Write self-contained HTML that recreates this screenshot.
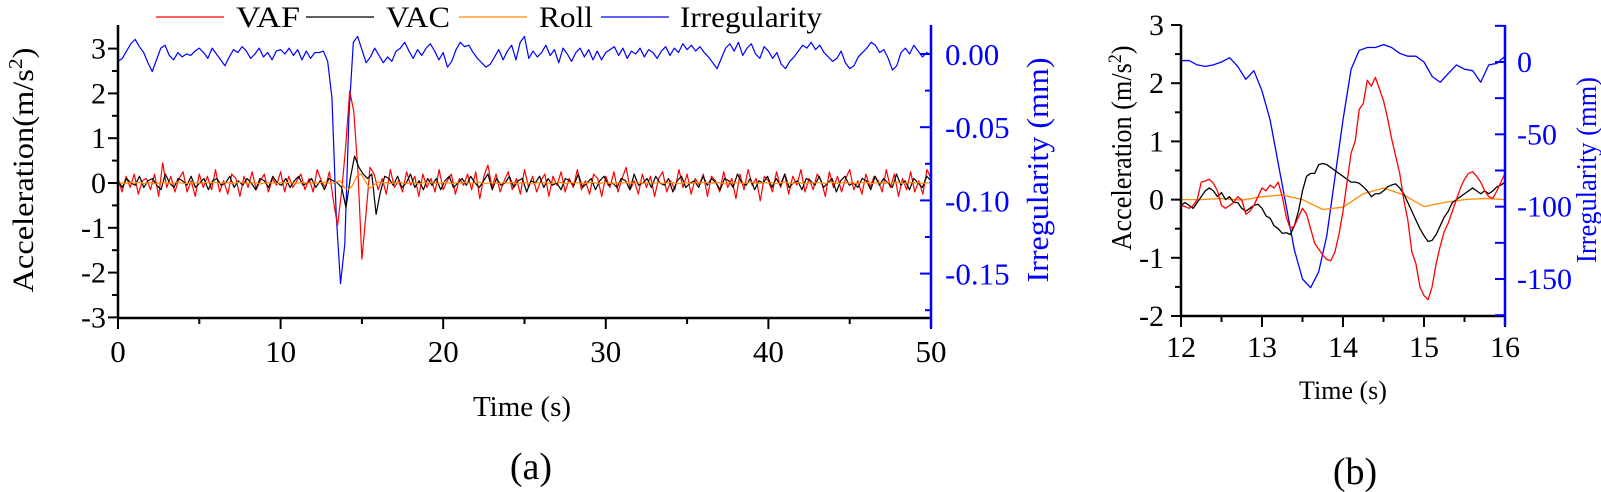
<!DOCTYPE html>
<html><head><meta charset="utf-8">
<style>
html,body{margin:0;padding:0;background:#fff;}
svg{display:block;font-family:"Liberation Serif","Times New Roman",serif;}
</style></head>
<body>
<svg id="fig" width="1601" height="492" viewBox="0 0 1601 492" xmlns="http://www.w3.org/2000/svg">
<g id="chartA"></g>
<g id="chartB"></g>
</svg>
<script>
// ---------- Chart (a) data ----------
const aTimeRange = [0, 50];
const aXTicks = [0, 10, 20, 30, 40, 50];
const aYTicks = [-3, -2, -1, 0, 1, 2, 3];
const aIrrTicks = [0.00, -0.05, -0.10, -0.15];
const aIrrTickLabels = ["0.00", "-0.05", "-0.10", "-0.15"];
const aVAF = [0.1,-0.2,0.15,-0.1,0.2,-0.25,0.05,0.1,-0.15,0.2,-0.3,0.45,-0.1,0.15,-0.2,0.1,0.25,-0.2,0.05,-0.3,0.2,-0.1,0.15,-0.15,0.3,-0.2,0.05,-0.25,0.2,0.1,-0.3,0.15,-0.1,0.25,-0.15,0.05,0.2,-0.2,0.1,-0.05,0.25,-0.2,0.15,-0.1,0.05,0.2,-0.15,0.1,-0.2,0.3,0.05,-0.1,
0.25,-0.4,-0.95,-0.2,0.8,2.05,1.6,0.3,-1.7,-0.7,0.35,
0.2,-0.15,0.1,-0.25,0.3,-0.1,0.05,-0.2,0.25,-0.05,0.15,-0.3,0.2,-0.1,0.1,-0.2,0.3,-0.15,0.05,0.2,-0.25,0.1,-0.05,0.2,-0.15,0.25,-0.35,0.15,0.4,-0.1,0.2,-0.2,0.05,0.25,-0.15,0.1,-0.25,0.3,-0.1,0.15,-0.2,0.05,0.2,-0.3,0.15,-0.05,0.25,-0.2,0.1,-0.1,0.3,-0.15,0.05,-0.25,0.2,0.1,-0.3,0.15,-0.1,0.25,-0.2,0.1,0.35,-0.15,0.05,-0.25,0.2,-0.1,0.15,-0.3,0.1,0.25,-0.2,0.05,-0.15,0.3,-0.1,0.2,-0.25,0.1,-0.05,0.2,-0.3,0.15,0.05,-0.2,0.25,-0.1,0.1,-0.35,0.2,-0.15,0.3,-0.05,0.1,-0.4,0.15,0.05,-0.2,0.25,-0.1,0.2,-0.25,0.15,-0.05,0.3,-0.2,0.1,-0.15,0.2,0.05,-0.3,0.25,-0.1,0.15,-0.2,0.1,0.3,-0.15,0.05,-0.25,0.2,-0.1,0.15,0.05,-0.2,0.3,-0.1,0.2,-0.3,0.1,-0.15,0.25,-0.2,0.05,-0.25,0.3,0.1];
const aVAC = [0.05,-0.1,0.1,0.0,-0.05,0.15,-0.1,0.05,0.1,-0.05,-0.15,0.2,0.0,-0.1,0.1,0.05,-0.05,0.15,-0.1,0.0,0.1,-0.15,0.05,0.1,-0.05,0.0,0.15,-0.1,0.05,-0.05,0.1,0.0,-0.15,0.1,0.05,-0.1,0.15,0.0,-0.05,0.1,-0.1,0.05,0.15,-0.05,0.0,0.1,-0.1,0.05,-0.15,0.1,0.05,0.0,
-0.1,-0.55,0.1,0.6,0.35,0.2,0.1,0.2,-0.7,-0.2,0.15,
0.1,-0.05,0.15,-0.1,0.0,0.2,-0.1,0.05,-0.15,0.1,-0.05,0.1,-0.15,0.05,0.15,-0.1,0.0,0.1,-0.05,0.15,0.0,-0.1,0.05,0.2,-0.15,0.1,-0.05,0.0,0.15,-0.1,0.05,0.1,-0.2,0.05,0.0,0.15,-0.1,0.1,-0.05,0.0,-0.15,0.1,0.05,-0.05,0.2,-0.1,0.0,0.1,-0.15,0.05,0.15,-0.05,0.0,-0.1,0.1,0.05,-0.15,0.2,-0.05,0.0,0.1,-0.1,0.15,0.0,-0.05,0.1,-0.2,0.05,0.15,-0.1,0.0,0.05,-0.1,0.15,-0.05,0.1,0.0,-0.15,0.1,0.05,-0.1,0.2,0.0,-0.05,0.1,-0.15,0.05,0.0,0.15,-0.1,0.1,-0.05,0.2,-0.1,0.0,0.05,-0.15,0.1,0.05,-0.05,0.15,-0.1,0.0,0.1,-0.2,0.05,0.15,-0.05,0.0,-0.1,0.1,0.05,-0.15,0.15,-0.05,0.1,0.0,-0.1,0.2,-0.05,0.05,-0.15,0.1,0.0,-0.1,0.15,0.05];
const aRoll = [0.01,0,-0.01,0.01,0,0.02,-0.01,0,0.01,-0.02,0,0.01,0,-0.01,0.02,0,-0.01,0,0.01,0,-0.01,0.01,0,0.02,-0.01,0,0.01,-0.01,0,0.02,0,-0.01,0.01,0,-0.02,0,0.01,0,-0.01,0.01,0,0.02,-0.01,0,0.01,0,-0.01,0.01,0,0.02,0,-0.01,
0.02,0.05,-0.1,-0.15,-0.05,0.15,0.2,0.05,-0.12,-0.05,0.02,
0,0.01,-0.01,0,0.02,0,-0.01,0.01,0,-0.02,0.01,0,0.01,-0.01,0,0.02,0,-0.01,0.01,0,0.01,-0.01,0,0.02,0,-0.01,0.01,0,-0.01,0.01,0,0.02,-0.01,0,0.01,0,-0.02,0.01,0,0.01,-0.01,0,0.02,0,-0.01,0.01,0,0.01,-0.01,0,0.02,0,-0.01,0.01,0,-0.02,0.01,0,0.01,0,-0.01,0.02,0,-0.01,0.01,0,0.01,-0.01,0,0.02,0,-0.01,0.01,0,-0.01,0.01,0,0.02,-0.01,0,0.01,0,-0.02,0.01,0,0.01,-0.01,0,0.02,0,-0.01,0.01,0,0.01,-0.01,0,0.02,0,-0.01,0.01,0,-0.02,0.01,0,0.01,0,-0.01,0.02,0,-0.01,0.01,0,0.01,-0.01,0,0.02,0,-0.01,0.01,0,-0.01,0.01,0,0.02,-0.01,0,0.01,0,0.01,-0.01,0,0.01];
const aIrr = [-0.005,-0.003,0.002,0.007,0.010,0.005,0.001,-0.006,-0.012,-0.004,0.004,0.006,-0.001,-0.004,0.001,-0.002,0.000,-0.001,0.002,0.004,
0.001,-0.003,0.004,0.000,-0.004,-0.008,-0.002,0.003,0.001,0.005,0.002,-0.003,0.000,0.004,-0.002,0.001,-0.004,0.002,0.003,
0.000,0.004,-0.001,0.003,-0.004,0.002,-0.003,0.001,0.001,0.002,-0.005,-0.030,-0.110,-0.157,-0.130,-0.040,0.008,0.012,0.003,
-0.006,-0.002,0.004,-0.001,-0.006,-0.002,-0.005,0.002,0.004,0.008,0.002,-0.003,0.003,-0.001,0.004,0.007,0.002,-0.004,0.001,
-0.009,-0.005,0.003,0.008,0.005,0.006,0.001,-0.003,-0.006,-0.009,-0.007,-0.002,0.003,-0.004,0.002,0.006,-0.004,0.008,0.012,
-0.003,0.002,-0.002,0.001,0.006,-0.001,0.003,-0.006,0.004,0.000,-0.005,0.001,0.004,-0.002,0.003,-0.004,0.002,-0.004,0.001,
0.003,0.005,-0.001,0.004,-0.003,0.002,0.000,0.004,-0.002,0.003,0.001,-0.003,0.002,0.005,-0.001,0.004,0.001,0.007,0.003,
0.006,0.002,0.005,0.001,-0.002,-0.006,-0.010,-0.003,0.004,0.007,0.002,0.008,-0.001,0.004,0.007,0.000,-0.003,0.005,0.002,
-0.003,0.001,-0.007,-0.010,-0.005,-0.002,0.002,0.006,0.004,0.008,0.003,0.006,0.001,-0.002,-0.005,-0.003,0.002,-0.006,-0.010,
-0.008,-0.002,0.001,0.004,0.008,0.006,0.001,0.003,-0.003,-0.011,-0.008,0.001,0.004,0.000,0.006,0.002,-0.002,0.001,-0.001];
const legendLabels = ["VAF", "VAC", "Roll", "Irregularity"];

// ---------- Chart (b) data ----------
const bTimeRange = [12, 16];
const bXTicks = [12, 13, 14, 15, 16];
const bYTicks = [-2, -1, 0, 1, 2, 3];
const bIrrTicks = [0, -50, -100, -150];
const bVAF = [-0.1,-0.12,-0.15,-0.1,0.0,0.3,0.32,0.35,0.28,0.15,-0.1,-0.15,-0.1,-0.05,0.05,0.0,-0.25,-0.2,-0.1,0.05,0.2,0.15,0.25,0.2,0.3,0.05,-0.3,-0.5,-0.45,-0.3,-0.15,-0.25,-0.5,-0.75,-0.85,-0.95,-1.03,-1.05,-0.9,-0.6,-0.2,0.3,0.8,1.0,1.55,1.65,2.05,1.95,2.1,1.9,1.7,1.4,1.05,0.75,0.45,0.0,-0.35,-0.9,-1.1,-1.5,-1.65,-1.72,-1.5,-1.1,-0.8,-0.55,-0.4,-0.2,0.0,0.2,0.35,0.45,0.48,0.4,0.3,0.15,0.05,0.02,0.15,0.3,0.45];
const bVAC = [-0.1,-0.05,-0.1,-0.15,-0.05,0.05,0.15,0.2,0.15,0.05,0.12,0.0,0.05,-0.05,-0.05,-0.15,-0.2,-0.15,-0.1,-0.08,-0.15,-0.28,-0.32,-0.45,-0.5,-0.58,-0.57,-0.6,-0.45,-0.2,0.15,0.4,0.45,0.45,0.6,0.62,0.6,0.55,0.5,0.45,0.4,0.35,0.3,0.3,0.28,0.22,0.15,0.05,0.1,0.1,0.15,0.22,0.25,0.27,0.2,0.1,-0.05,-0.2,-0.35,-0.5,-0.62,-0.72,-0.7,-0.6,-0.45,-0.3,-0.2,-0.05,0.0,0.05,0.1,0.15,0.2,0.15,0.1,0.15,0.1,0.15,0.22,0.25,0.3];
const bRoll = [0.0,0.0,0.02,-0.01,0.05,0.08,0.0,-0.17,-0.13,0.1,0.2,0.08,-0.12,-0.05,0.0,0.02,0.0];
const bIrr = [1,1,-2,-3,-2,0,3,-3,-12,-6,-20,-40,-70,-100,-130,-150,-156,-145,-120,-80,-40,-5,8,10,10,12,10,6,4,4,0,-10,-14,-8,-2,-5,-6,-14,-2,-1,4];

// ---------- helpers ----------
const NS = "http://www.w3.org/2000/svg";
function mk(parent, tag, attrs, text) {
  const e = document.createElementNS(NS, tag);
  for (const k in attrs) e.setAttribute(k, attrs[k]);
  if (text !== undefined) e.textContent = text;
  parent.appendChild(e);
  return e;
}
function lineScale(d0, d1, r0, r1) { return v => r0 + (v - d0) / (d1 - d0) * (r1 - r0); }
function seriesPath(parent, vals, t0, t1, xs, ys, color, width, name) {
  const n = vals.length;
  const d = vals.map((v, i) => (i ? "L" : "M") + xs(t0 + i * (t1 - t0) / (n - 1)).toFixed(2) + "," + ys(v).toFixed(2)).join("");
  const p = mk(parent, "path", {d: d, fill: "none", stroke: color, "stroke-width": width, "stroke-linejoin": "round"});
  
  
  return p;
}

// ---------- chart (a) ----------
(function(){
  const g = document.getElementById("chartA");
  const L = 118, R = 931, T = 25, B = 318;
  const xs = lineScale(aTimeRange[0], aTimeRange[1], L, R);
  const ys = lineScale(-3, 3, 317.4, 48.6);
  const yi = lineScale(0, -0.18, 54, 317.5);

  seriesPath(g, aIrr, 0, 50, xs, yi, "#0000ff", 1.2, "irregularity-line-a");
  seriesPath(g, aVAF, 0, 50, xs, ys, "#ff0000", 1.2, "vaf-line-a");
  seriesPath(g, aVAC, 0, 50, xs, ys, "#000000", 1.2, "vac-line-a");
  seriesPath(g, aRoll, 0, 50, xs, ys, "#ff8c00", 1.2, "roll-line-a");

  const la = mk(g, "line", {x1: L, y1: T, x2: L, y2: B, stroke: "#000", "stroke-width": 2.5});
  
  
  aYTicks.forEach(v => {
    mk(g, "line", {x1: L - 10, y1: ys(v), x2: L, y2: ys(v), stroke: "#000", "stroke-width": 2});
    const t = mk(g, "text", {x: 106, y: ys(v) + 10, "text-anchor": "end", "font-size": 30}, String(v));
    
    
    if (v < 3) mk(g, "line", {x1: L - 6, y1: ys(v + 0.5), x2: L, y2: ys(v + 0.5), stroke: "#000", "stroke-width": 2});
  });
  const ba = mk(g, "line", {x1: L - 1, y1: B, x2: R, y2: B, stroke: "#000", "stroke-width": 2.5});
  
  
  aXTicks.forEach(v => {
    mk(g, "line", {x1: xs(v), y1: B, x2: xs(v), y2: B + 11, stroke: "#000", "stroke-width": 2});
    const t = mk(g, "text", {x: xs(v), y: 362, "text-anchor": "middle", "font-size": 31}, String(v));
    
    
    if (v < 50) mk(g, "line", {x1: xs(v + 5), y1: B, x2: xs(v + 5), y2: B + 6, stroke: "#000", "stroke-width": 2});
  });
  const ra = mk(g, "line", {x1: R, y1: T, x2: R, y2: B + 10, stroke: "#0000ff", "stroke-width": 2.5});
  
  
  aIrrTicks.forEach((v, i) => {
    mk(g, "line", {x1: R - 11, y1: yi(v), x2: R, y2: yi(v), stroke: "#0000ff", "stroke-width": 2});
    mk(g, "line", {x1: R - 6, y1: yi(v - 0.025), x2: R, y2: yi(v - 0.025), stroke: "#0000ff", "stroke-width": 2});
    const t = mk(g, "text", {x: 945, y: yi(v) + 11, "font-size": 31, fill: "#0000ff"}, aIrrTickLabels[i]);
    
    
  });

  const xt = mk(g, "text", {x: 522, y: 416, "text-anchor": "middle", "font-size": 29}, "Time (s)");
  
  
  const yt = mk(g, "text", {transform: "translate(33,170) rotate(-90)", "text-anchor": "middle", "font-size": 30, textLength: 245, lengthAdjust: "spacingAndGlyphs"});
  yt.innerHTML = 'Acceleration(m/s<tspan dy="-11" font-size="20">2</tspan><tspan dy="11">)</tspan>';
  
  
  const rt = mk(g, "text", {transform: "translate(1048,170) rotate(-90)", "text-anchor": "middle", "font-size": 31, fill: "#0000ff", textLength: 225, lengthAdjust: "spacingAndGlyphs"}, "Irregularity (mm)");
  
  
  const cap = mk(g, "text", {x: 531, y: 479, "text-anchor": "middle", "font-size": 38}, "(a)");
  
  

  const lg = mk(g, "g", {});
  
  
  const colors = ["#ff0000", "#000000", "#ff8c00", "#0000ff"];
  const lx = [156, 306, 459, 601];
  const tx = [236, 386, 539, 680];
  const tw = [64, 64, 54, 142];
  legendLabels.forEach((lab, i) => {
    const e = mk(lg, "g", {});
    
    
    mk(e, "line", {x1: lx[i], y1: 17, x2: lx[i] + 68, y2: 17, stroke: colors[i], "stroke-width": 1.3});
    mk(e, "text", {x: tx[i], y: 27, "font-size": 30, textLength: tw[i], lengthAdjust: "spacingAndGlyphs"}, lab);
  });
})();

// ---------- chart (b) ----------
(function(){
  const g = document.getElementById("chartB");
  const L = 1181, R = 1505, T = 25, B = 316;
  const xs = lineScale(bTimeRange[0], bTimeRange[1], L, R);
  const ys = lineScale(-2, 3, B, T);
  const yi = lineScale(0, -150, 62, 279);

  seriesPath(g, bIrr, 12, 16, xs, yi, "#0000ff", 1.3, "irregularity-line-b");
  seriesPath(g, bRoll, 12, 16, xs, ys, "#ff8c00", 1.3, "roll-line-b");
  seriesPath(g, bVAC, 12, 16, xs, ys, "#000000", 1.3, "vac-line-b");
  seriesPath(g, bVAF, 12, 16, xs, ys, "#ff0000", 1.3, "vaf-line-b");

  const la = mk(g, "line", {x1: L, y1: T, x2: L, y2: B, stroke: "#000", "stroke-width": 2.5});
  
  
  bYTicks.forEach(v => {
    mk(g, "line", {x1: L - 10, y1: ys(v), x2: L, y2: ys(v), stroke: "#000", "stroke-width": 2});
    const t = mk(g, "text", {x: 1164, y: ys(v) + 10, "text-anchor": "end", "font-size": 30}, String(v));
    
    
    if (v < 3) mk(g, "line", {x1: L - 6, y1: ys(v + 0.5), x2: L, y2: ys(v + 0.5), stroke: "#000", "stroke-width": 2});
  });
  const ba = mk(g, "line", {x1: L - 1, y1: B, x2: R, y2: B, stroke: "#000", "stroke-width": 2.5});
  
  
  bXTicks.forEach(v => {
    mk(g, "line", {x1: xs(v), y1: B, x2: xs(v), y2: B + 11, stroke: "#000", "stroke-width": 2});
    const t = mk(g, "text", {x: xs(v), y: 357, "text-anchor": "middle", "font-size": 30}, String(v));
    
    
    if (v < 16) mk(g, "line", {x1: xs(v + 0.5), y1: B, x2: xs(v + 0.5), y2: B + 6, stroke: "#000", "stroke-width": 2});
  });
  const ra = mk(g, "line", {x1: R, y1: T, x2: R, y2: B + 10, stroke: "#0000ff", "stroke-width": 2.5});
  
  
  [25, 0, -25, -50, -75, -100, -125, -150, -175].forEach(v => {
    mk(g, "line", {x1: R - 10, y1: yi(v), x2: R, y2: yi(v), stroke: "#0000ff", "stroke-width": 2});
  });
  bIrrTicks.forEach(v => {
    const t = mk(g, "text", {x: 1517, y: yi(v) + 10, "font-size": 30, fill: "#0000ff"}, String(v));
    
    
  });
  const xt = mk(g, "text", {x: 1343, y: 399, "text-anchor": "middle", "font-size": 26}, "Time (s)");
  
  
  const yt = mk(g, "text", {transform: "translate(1131,148) rotate(-90)", "text-anchor": "middle", "font-size": 28, textLength: 205, lengthAdjust: "spacingAndGlyphs"});
  yt.innerHTML = 'Acceleration (m/s<tspan dy="-10" font-size="19">2</tspan><tspan dy="10">)</tspan>';
  
  
  const rt = mk(g, "text", {transform: "translate(1596,170) rotate(-90)", "text-anchor": "middle", "font-size": 29, fill: "#0000ff", textLength: 186, lengthAdjust: "spacingAndGlyphs"}, "Irregularity (mm)");
  
  
  const cap = mk(g, "text", {x: 1355, y: 484, "text-anchor": "middle", "font-size": 38}, "(b)");
  
  
})();
</script>
</body></html>
